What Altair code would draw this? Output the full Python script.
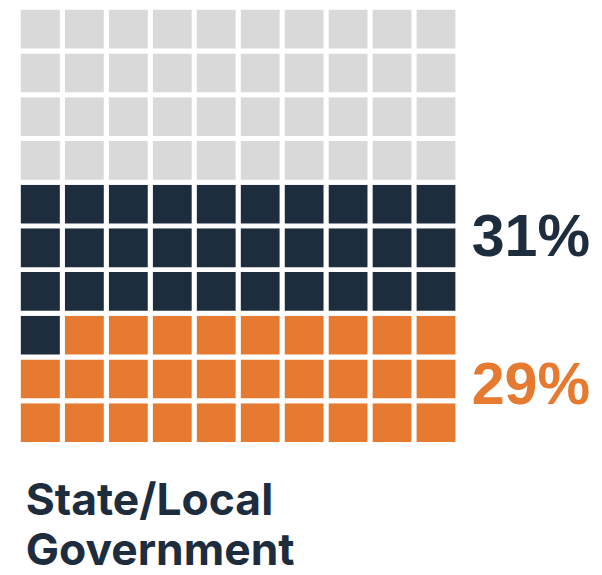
import altair as alt
import pandas as pd

categories = ["Orange group", "Navy group", "Remainder"]
counts = [29, 31, 40]
colors = ["#e67a30", "#1e2d3e", "#d9d9d9"]
labels = ["29%", "31%", ""]
title_lines = ["State/Local", "Government"]

rows = []
i = 0
for cat, n in zip(categories, counts):
    for _ in range(n):
        r = i // 10
        c = 9 - (i % 10)
        rows.append({"cat": cat, "x": c, "x2": c + 1, "y": r, "y2": r + 1})
        i += 1
cells = pd.DataFrame(rows)

W, H = 594, 567
xs = alt.Scale(domain=[0, 10], range=[10.5, 456])
ys = alt.Scale(domain=[0, 10], range=[438.5, -4.5])

waffle = alt.Chart(cells).mark_rect(stroke="white", strokeWidth=5).encode(
    x=alt.X("x:Q", scale=xs, axis=None),
    x2="x2:Q",
    y=alt.Y("y:Q", scale=ys, axis=None),
    y2="y2:Q",
    color=alt.Color("cat:N", scale=alt.Scale(domain=categories, range=colors), legend=None),
)

lab31 = alt.Chart(pd.DataFrame({"t": [labels[1]]})).mark_text(
    font="Liberation Sans", fontWeight="bold", fontSize=60, color=colors[1],
    align="left", baseline="alphabetic"
).encode(x=alt.value(470), y=alt.value(248), text="t:N")

lab29 = alt.Chart(pd.DataFrame({"t": [labels[0]]})).mark_text(
    font="Liberation Sans", fontWeight="bold", fontSize=60, color=colors[0],
    align="left", baseline="alphabetic"
).encode(x=alt.value(470), y=alt.value(398), text="t:N")

title = alt.Chart(pd.DataFrame({"t": ["\n".join(title_lines)]})).mark_text(
    font="Inter", fontWeight="bold", fontSize=45, color="#1e2d3e",
    align="left", baseline="alphabetic", lineBreak="\n", lineHeight=51
).encode(x=alt.value(18), y=alt.value(510), text="t:N")

chart = alt.layer(waffle, lab31, lab29, title).properties(
    width=W, height=H, padding=0, autosize=alt.AutoSizeParams(type="none")
).configure_view(stroke=None)

chart.save("out.html", embed_options={"renderer": "svg", "actions": False})
